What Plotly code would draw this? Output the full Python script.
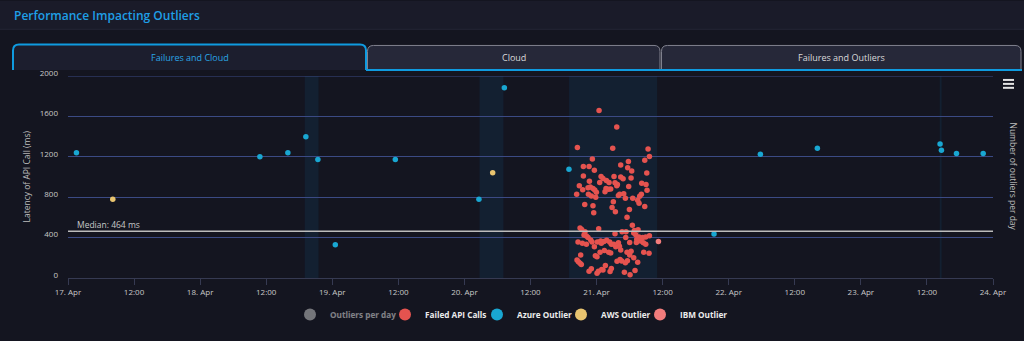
import plotly.graph_objects as go

# ---------------- data ----------------
azure_time = ["2024-04-17 01:32", "2024-04-18 10:51", "2024-04-18 15:56", "2024-04-18 19:12",
              "2024-04-18 21:23", "2024-04-19 00:33", "2024-04-19 11:27", "2024-04-20 02:38",
              "2024-04-20 07:15", "2024-04-20 18:59", "2024-04-21 21:20", "2024-04-22 05:45",
              "2024-04-22 16:06", "2024-04-23 14:23", "2024-04-23 14:38", "2024-04-23 17:22",
              "2024-04-23 22:13"]
azure_ms = [1239, 1200, 1239, 1398, 1174, 329, 1174, 780, 1883, 1076, 436, 1226, 1285, 1327, 1265, 1233, 1233]

aws_time = ["2024-04-17 08:08", "2024-04-20 05:08"]
aws_ms = [780, 1041]

ibm_time = ["2024-04-21 11:14"]
ibm_ms = [361]

# "Outliers per day" is a hidden (legend-only) series in the reference: no visible values
outliers_day = ["2024-04-17"]
outliers_count = [None]

failed_time = [
    "2024-04-21 00:27", "2024-04-21 03:40", "2024-04-20 20:31", "2024-04-21 02:56", "2024-04-21 09:21",
    "2024-04-21 09:36", "2024-04-20 23:14", "2024-04-21 08:45", "2024-04-21 05:47", "2024-04-20 21:36",
    "2024-04-20 22:38", "2024-04-21 04:23", "2024-04-20 23:36", "2024-04-21 05:39", "2024-04-21 06:23",
    "2024-04-21 09:07", "2024-04-20 21:36", "2024-04-21 00:49", "2024-04-21 01:10", "2024-04-21 03:10",
    "2024-04-21 04:23", "2024-04-21 04:49", "2024-04-21 06:16", "2024-04-20 22:42", "2024-04-21 00:34",
    "2024-04-21 01:47", "2024-04-21 02:16", "2024-04-21 03:21", "2024-04-21 03:47", "2024-04-21 08:12",
    "2024-04-21 08:59", "2024-04-20 20:52", "2024-04-20 22:27", "2024-04-20 22:52", "2024-04-20 23:21",
    "2024-04-20 23:40", "2024-04-21 01:43", "2024-04-21 02:09", "2024-04-21 02:34", "2024-04-21 05:50",
    "2024-04-20 21:29", "2024-04-21 03:40", "2024-04-21 09:10", "2024-04-20 20:23", "2024-04-20 22:31",
    "2024-04-20 23:03", "2024-04-20 23:58", "2024-04-20 23:51", "2024-04-21 01:32", "2024-04-21 04:12",
    "2024-04-21 03:58", "2024-04-21 04:56", "2024-04-21 05:14", "2024-04-21 06:34", "2024-04-21 07:50",
    "2024-04-21 08:08", "2024-04-21 07:28", "2024-04-21 07:43", "2024-04-21 03:03", "2024-04-20 21:51",
    "2024-04-20 23:21", "2024-04-21 02:49", "2024-04-21 03:25", "2024-04-21 05:58", "2024-04-21 08:45",
    "2024-04-20 23:29", "2024-04-21 05:32", "2024-04-21 06:30", "2024-04-20 21:00", "2024-04-20 21:18",
    "2024-04-21 00:23", "2024-04-20 21:54", "2024-04-20 21:43", "2024-04-20 22:09", "2024-04-20 22:27",
    "2024-04-20 22:56", "2024-04-20 20:38", "2024-04-20 21:25", "2024-04-20 22:09", "2024-04-20 23:11",
    "2024-04-21 00:09", "2024-04-21 00:45", "2024-04-21 00:52", "2024-04-21 01:21", "2024-04-21 01:50",
    "2024-04-21 02:23", "2024-04-21 02:41", "2024-04-21 03:07", "2024-04-21 03:58", "2024-04-21 03:21",
    "2024-04-21 04:38", "2024-04-21 05:21", "2024-04-21 06:52", "2024-04-21 07:32", "2024-04-21 06:45",
    "2024-04-21 07:07", "2024-04-21 07:43", "2024-04-21 07:18", "2024-04-21 07:58", "2024-04-21 08:23",
    "2024-04-21 08:56", "2024-04-21 09:36", "2024-04-21 08:56", "2024-04-21 08:30", "2024-04-21 07:14",
    "2024-04-21 06:01", "2024-04-21 05:18", "2024-04-21 04:09", "2024-04-21 03:29", "2024-04-20 23:36",
    "2024-04-21 00:38", "2024-04-21 01:25", "2024-04-21 02:12", "2024-04-21 02:34", "2024-04-21 04:23",
    "2024-04-21 05:32", "2024-04-21 06:16", "2024-04-21 06:01", "2024-04-21 08:34", "2024-04-21 09:32",
    "2024-04-20 23:47", "2024-04-21 00:05", "2024-04-20 21:07", "2024-04-20 20:27", "2024-04-20 20:42",
    "2024-04-20 21:00", "2024-04-20 21:14", "2024-04-21 01:36", "2024-04-21 02:41", "2024-04-21 03:43",
    "2024-04-21 04:16", "2024-04-21 04:34", "2024-04-21 05:14", "2024-04-21 05:36", "2024-04-21 07:28",
    "2024-04-21 06:45", "2024-04-20 23:03", "2024-04-20 22:38", "2024-04-21 00:56", "2024-04-21 01:10",
    "2024-04-21 00:20", "2024-04-21 00:05", "2024-04-21 02:27", "2024-04-21 05:03", "2024-04-21 06:05",
    "2024-04-21 06:59"]
failed_ms = [
    1658, 1496, 1291, 1284, 1278, 1203, 1177, 1167, 1154, 1105,
    1105, 1118, 1066, 1092, 1060, 1040, 1011, 1004, 985, 1004,
    1001, 982, 991, 959, 946, 965, 946, 943, 926, 939,
    926, 913, 894, 900, 887, 871, 887, 878, 881, 907,
    874, 913, 868, 829, 829, 813, 848, 800, 855, 829,
    816, 835, 790, 790, 809, 829, 770, 741, 754, 728,
    715, 699, 657, 679, 709, 647, 601, 523, 494, 481,
    487, 458, 426, 416, 400, 377, 357, 344, 335, 357,
    357, 367, 344, 361, 374, 357, 335, 335, 348, 439,
    458, 458, 471, 478, 445, 429, 406, 383, 367, 400,
    406, 419, 335, 348, 351, 351, 400, 315, 309, 309,
    256, 273, 256, 247, 276, 256, 266, 227, 256, 244,
    221, 211, 227, 178, 162, 146, 133, 123, 94, 165,
    182, 169, 152, 172, 156, 201, 91, 68, 84, 78,
    68, 48, 65, 58, 32, 74]

median_ms = 464

band_start = ["2024-04-18 19:00", "2024-04-20 02:45", "2024-04-20 19:00", "2024-04-23 14:20"]
band_end = ["2024-04-18 21:30", "2024-04-20 07:05", "2024-04-21 11:00", "2024-04-23 14:40"]

tick_vals = ["2024-04-17 00:00", "2024-04-17 12:00", "2024-04-18 00:00", "2024-04-18 12:00",
             "2024-04-19 00:00", "2024-04-19 12:00", "2024-04-20 00:00", "2024-04-20 12:00",
             "2024-04-21 00:00", "2024-04-21 12:00", "2024-04-22 00:00", "2024-04-22 12:00",
             "2024-04-23 00:00", "2024-04-23 12:00", "2024-04-24 00:00"]
tick_text = ["17. Apr", "12:00", "18. Apr", "12:00", "19. Apr", "12:00", "20. Apr", "12:00",
             "21. Apr", "12:00", "22. Apr", "12:00", "23. Apr", "12:00", "24. Apr"]
y_ticks = [0, 400, 800, 1200, 1600, 2000]

tab_labels = ["Failures and Cloud", "Cloud", "Failures and Outliers"]

# ---------------- styling ----------------
FONT = "Open Sans"
BG = "#141520"
W, H = 1024, 341
L, R, T, B = 68, 31, 76, 60
PW, PH = W - L - R, H - T - B
GRID = "#3b4a84"


def px(x):
    return (x - L) / PW


def py(y):
    return (H - B - y) / PH


fig = go.Figure()

series = [
    ("Outliers per day", outliers_day, outliers_count, "#d4d4d4", "legend"),
    ("Failed API Calls", failed_time, failed_ms, "#e5534f", "legend2"),
    ("Azure Outlier", azure_time, azure_ms, "#19a7d2", "legend3"),
    ("AWS Outlier", aws_time, aws_ms, "#e9c46f", "legend4"),
    ("IBM Outlier", ibm_time, ibm_ms, "#f27c7c", "legend5"),
]
for name, xs, ys, col, lg in series:
    fig.add_trace(go.Scatter(x=xs, y=ys, mode="markers", name=name, legend=lg,
                             visible="legendonly" if name == "Outliers per day" else True,
                             marker=dict(color=col, size=5.5)))

shapes = []
# plot bands
for s, e in zip(band_start, band_end):
    shapes.append(dict(type="rect", xref="x", yref="paper", x0=s, x1=e, y0=0, y1=1,
                       fillcolor="#132031", line=dict(width=0), layer="below"))
# top gridline (edge)
shapes.append(dict(type="line", xref="paper", yref="y", x0=0, x1=1, y0=2000, y1=2000,
                   line=dict(color=GRID, width=1), layer="below"))
# median line
shapes.append(dict(type="line", xref="paper", yref="y", x0=0, x1=1, y0=median_ms, y1=median_ms,
                   line=dict(color="#bcbcbc", width=1.5)))

# header
shapes.append(dict(type="rect", xref="paper", yref="paper", x0=px(0), x1=px(W), y0=py(0), y1=py(28),
                   fillcolor="#1a1b29", line=dict(width=0), layer="below"))
shapes.append(dict(type="line", xref="paper", yref="paper", x0=px(0), x1=px(W), y0=py(28.5), y1=py(28.5),
                   line=dict(color="#262837", width=1)))


def tab_path(x0, x1, ytop, ybot, r=6):
    return (f"M {px(x0)},{py(ybot)} L {px(x0)},{py(ytop + r)} "
            f"Q {px(x0)},{py(ytop)} {px(x0 + r)},{py(ytop)} "
            f"L {px(x1 - r)},{py(ytop)} Q {px(x1)},{py(ytop)} {px(x1)},{py(ytop + r)} "
            f"L {px(x1)},{py(ybot)}")


tabs = [(13, 366, 44), (367.5, 660, 45), (661.5, 1021, 45)]
for i, (a, b, top) in enumerate(tabs):
    if i == 0:
        shapes.append(dict(type="path", xref="paper", yref="paper", path=tab_path(a, b, top, 70) + " Z",
                           fillcolor="#1c1e2e", line=dict(width=0)))
        shapes.append(dict(type="path", xref="paper", yref="paper", path=tab_path(a, b, top, 70),
                           line=dict(color="#0f9be0", width=2)))
    else:
        shapes.append(dict(type="path", xref="paper", yref="paper", path=tab_path(a, b, top, 69.5) + " Z",
                           fillcolor="#262839", line=dict(color="#80818e", width=1)))
shapes.append(dict(type="line", xref="paper", yref="paper", x0=px(366), x1=px(1022), y0=py(70), y1=py(70),
                   line=dict(color="#0f9be0", width=2)))

# menu icon
for yy in (80, 84, 88):
    shapes.append(dict(type="line", xref="paper", yref="paper", x0=px(1003), x1=px(1014), y0=py(yy), y1=py(yy),
                       line=dict(color="#e4e4e4", width=2)))

annotations = [
    dict(text="Performance Impacting Outliers", x=px(12), y=py(15), xref="paper", yref="paper",
         xanchor="left", yanchor="middle", showarrow=False,
         font=dict(family=FONT, size=12, color="#1f9fe6", weight=600)),
    dict(text=tab_labels[0], x=px(190), y=py(57.5), xref="paper", yref="paper", showarrow=False,
         xanchor="center", yanchor="middle", font=dict(family=FONT, size=9, color="#2aa5e6")),
    dict(text=tab_labels[1], x=px(514), y=py(57.5), xref="paper", yref="paper", showarrow=False,
         xanchor="center", yanchor="middle", font=dict(family=FONT, size=9, color="#dadada")),
    dict(text=tab_labels[2], x=px(841), y=py(57.5), xref="paper", yref="paper", showarrow=False,
         xanchor="center", yanchor="middle", font=dict(family=FONT, size=9, color="#dadada")),
    dict(text="Latency of API Call (ms)", x=px(27), y=py(178), xref="paper", yref="paper", showarrow=False,
         textangle=-90, xanchor="center", yanchor="middle", font=dict(family=FONT, size=8.5, color="#bdbdbd")),
    dict(text="Number of outliers per day", x=px(1013), y=py(178), xref="paper", yref="paper", showarrow=False,
         textangle=90, xanchor="center", yanchor="middle", font=dict(family=FONT, size=8.5, color="#bdbdbd")),
    dict(text=f"Median: {median_ms} ms", x=px(75), y=median_ms, xref="paper", yref="y", showarrow=False,
         xanchor="left", yanchor="bottom", yshift=-1, font=dict(family=FONT, size=8.5, color="#c8c8c8")),
]

# one small legend per series so each entry sits where the reference puts it
legend_marker_x = [310, 405, 497, 581, 660]
legend_keys = ["legend", "legend2", "legend3", "legend4", "legend5"]
legends = {}
for key, mx in zip(legend_keys, legend_marker_x):
    legends[key] = dict(orientation="h", x=px(mx - 20), xanchor="left", y=py(318), yanchor="middle",
                        font=dict(family=FONT, size=8.2, color="#ececec", weight="bold"),
                        itemsizing="constant", bgcolor="rgba(0,0,0,0)", borderwidth=0)

fig.update_layout(
    width=W, height=H,
    margin=dict(l=L, r=R, t=T, b=B, pad=0),
    paper_bgcolor=BG, plot_bgcolor=BG,
    font=dict(family=FONT, color="#c8c8c8"),
    shapes=shapes, annotations=annotations,
    showlegend=True,
    xaxis=dict(type="date", range=["2024-04-17 00:00", "2024-04-24 00:00"],
               tickvals=tick_vals, ticktext=tick_text, showgrid=False, zeroline=False,
               showline=True, linecolor="#363a52", linewidth=1,
               ticks="outside", ticklen=6, tickcolor="#363a52",
               tickfont=dict(family=FONT, size=8, color="#c8c8c8")),
    yaxis=dict(range=[0, 2000], tickvals=y_ticks, showgrid=True, gridcolor=GRID, gridwidth=1,
               zeroline=False, showline=False, ticks="", ticklabelstandoff=9, ticklabelshift=-3,
               tickfont=dict(family=FONT, size=8, color="#c8c8c8")),
    **legends,
)

fig.write_html("out.html")
